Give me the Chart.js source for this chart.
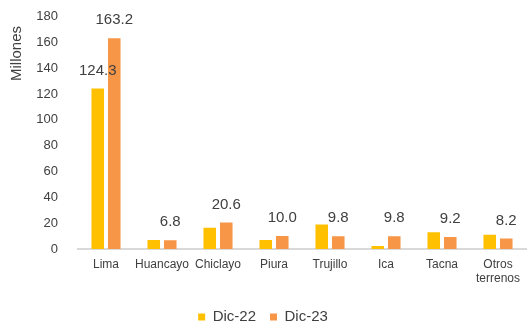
<!DOCTYPE html>
<html><head><meta charset="utf-8">
<script src="https://cdn.jsdelivr.net/npm/chart.js@4/dist/chart.umd.min.js"></script>
<style>html,body{margin:0;padding:0;background:#fff}#wrap{width:529px;height:327px;position:relative}</style>
</head><body><div id="wrap"><canvas id="c"></canvas></div>
<script>
const categories = ['Lima','Huancayo','Chiclayo','Piura','Trujillo','Ica','Tacna',['Otros','terrenos']];
const seriesNames = ['Dic-22','Dic-23'];
const dic22 = [124.3, 7.0, 16.4, 7.0, 19.0, 2.3, 13.0, 11.0];
const dic23 = [163.2, 6.8, 20.6, 10.0, 9.8, 9.8, 9.2, 8.2];
const labels22 = ['124.3', null, null, null, null, null, null, null];
const labels23 = ['163.2','6.8','20.6','10.0','9.8','9.8','9.2','8.2'];
const yTicks = [0,20,40,60,80,100,120,140,160,180];
const yTitle = 'Millones';
const FONT = "'Liberation Sans', Arial, sans-serif";
const TXT = '#404040';

const labelPlugin = {
  id: 'barLabels',
  afterDatasetsDraw(chart) {
    const ctx = chart.ctx;
    const all = [labels22, labels23];
    ctx.save();
    ctx.font = '15px ' + FONT;
    ctx.fillStyle = TXT;
    ctx.textAlign = 'center';
    ctx.textBaseline = 'middle';
    all.forEach((labs, di) => {
      const meta = chart.getDatasetMeta(di);
      meta.data.forEach((el, i) => {
        if (labs[i] == null) return;
        ctx.fillText(labs[i], el.x, el.y - 18);
      });
    });
    ctx.translate(17, 53.5);
    ctx.rotate(-Math.PI / 2);
    ctx.fillText(yTitle, 0, 0);
    ctx.restore();
  }
};

new Chart(document.getElementById('c'), {
  type: 'bar',
  data: {
    labels: categories,
    datasets: [
      { label: seriesNames[0], data: dic22, backgroundColor: '#FFC000', categoryPercentage: 0.59, barPercentage: 0.76 },
      { label: seriesNames[1], data: dic23, backgroundColor: '#F79646', categoryPercentage: 0.59, barPercentage: 0.76 }
    ]
  },
  options: {
    responsive: true,
    maintainAspectRatio: false,
    animation: false,
    devicePixelRatio: 1,
    layout: { padding: { top: 0, right: 3, left: 0, bottom: -7.5 } },
    plugins: {
      tooltip: { enabled: false },
      legend: {
        position: 'bottom',
        labels: { boxWidth: 7, boxHeight: 7, padding: 14, font: { family: FONT, size: 15 }, color: TXT }
      }
    },
    scales: {
      x: {
        afterFit(s) { s.height += 1.7; },
        grid: { display: false, drawTicks: false },
        border: { display: true, color: '#d9d9d9', width: 2 },
        ticks: { font: { family: FONT, size: 12 }, color: TXT, padding: 8, maxRotation: 0, autoSkip: false }
      },
      y: {
        min: 0, max: 180,
        afterBuildTicks(s) { s.ticks = yTicks.map(v => ({ value: v })); },
        afterFit(s) { s.width = 78; s.paddingTop = 16.6; s.paddingBottom = 8; },
        grid: { display: false, drawTicks: false },
        border: { display: false },
        ticks: { font: { family: FONT, size: 13 }, color: TXT, padding: 20 }
      }
    }
  },
  plugins: [labelPlugin]
});
</script></body></html>
